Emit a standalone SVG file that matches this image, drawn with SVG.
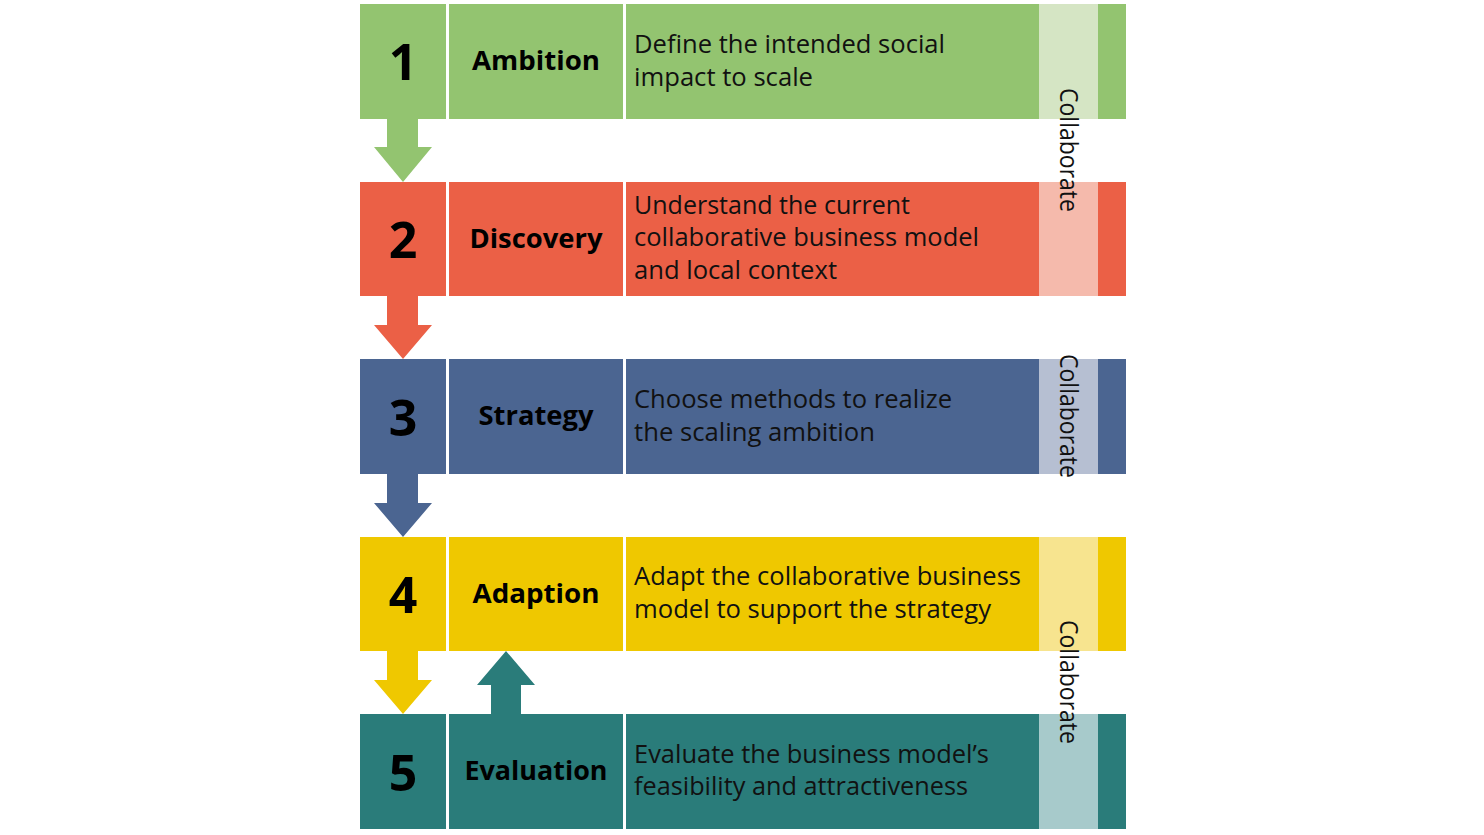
<svg xmlns="http://www.w3.org/2000/svg" width="1484" height="835" viewBox="0 0 1484 835">
<style>
.num{font-family:"Open Sans","Noto Sans",sans-serif;font-weight:700;font-size:50px;fill:#000;text-anchor:middle}
.lbl{font-family:"Open Sans","Noto Sans",sans-serif;font-weight:700;font-size:27px;fill:#000;text-anchor:middle}
.desc{font-family:"Open Sans","Noto Sans",sans-serif;font-size:25px;fill:#111}
.col{font-family:"Open Sans","Noto Sans",sans-serif;font-size:25px;fill:#111;text-anchor:middle}
.g{fill:#93C470}.gl{fill:#D5E5C4}
.r{fill:#EB6046}.rl{fill:#F5BAAC}
.b{fill:#4B6591}.bl{fill:#B6BFD2}
.y{fill:#EFC800}.yl{fill:#F7E48F}
.t{fill:#2A7C7A}.tl{fill:#A7CACB}
</style>
<rect width="1484" height="835" fill="#fff"/>
<g id="step1">
<rect class="g" x="360" y="4" width="86" height="115"/>
<rect class="g" x="449" y="4" width="174" height="115"/>
<rect class="g" x="626" y="4" width="500" height="115"/>
<rect class="gl" x="1039" y="4" width="59" height="115"/>
<text class="num" x="403" y="80">1</text>
<text class="lbl" x="536" y="70" textLength="128" lengthAdjust="spacingAndGlyphs">Ambition</text>
<text class="desc" x="634" y="53" textLength="311" lengthAdjust="spacingAndGlyphs">Define the intended social</text>
<text class="desc" x="634" y="86" textLength="179" lengthAdjust="spacingAndGlyphs">impact to scale</text>
</g>
<g id="step2">
<rect class="r" x="360" y="182" width="86" height="114"/>
<rect class="r" x="449" y="182" width="174" height="114"/>
<rect class="r" x="626" y="182" width="500" height="114"/>
<rect class="rl" x="1039" y="182" width="59" height="114"/>
<text class="num" x="403" y="258">2</text>
<text class="lbl" x="536" y="248" textLength="133" lengthAdjust="spacingAndGlyphs">Discovery</text>
<text class="desc" x="634" y="214" textLength="276" lengthAdjust="spacingAndGlyphs">Understand the current</text>
<text class="desc" x="634" y="246" textLength="345" lengthAdjust="spacingAndGlyphs">collaborative business model</text>
<text class="desc" x="634" y="279" textLength="203" lengthAdjust="spacingAndGlyphs">and local context</text>
</g>
<g id="step3">
<rect class="b" x="360" y="359" width="86" height="115"/>
<rect class="b" x="449" y="359" width="174" height="115"/>
<rect class="b" x="626" y="359" width="500" height="115"/>
<rect class="bl" x="1039" y="359" width="59" height="115"/>
<text class="num" x="403" y="436">3</text>
<text class="lbl" x="536" y="425" textLength="115" lengthAdjust="spacingAndGlyphs">Strategy</text>
<text class="desc" x="634" y="408" textLength="318" lengthAdjust="spacingAndGlyphs">Choose methods to realize</text>
<text class="desc" x="634" y="441" textLength="241" lengthAdjust="spacingAndGlyphs">the scaling ambition</text>
</g>
<g id="step4">
<rect class="y" x="360" y="537" width="86" height="114"/>
<rect class="y" x="449" y="537" width="174" height="114"/>
<rect class="y" x="626" y="537" width="500" height="114"/>
<rect class="yl" x="1039" y="537" width="59" height="114"/>
<text class="num" x="403" y="613">4</text>
<text class="lbl" x="536" y="603" textLength="127" lengthAdjust="spacingAndGlyphs">Adaption</text>
<text class="desc" x="634" y="585" textLength="387" lengthAdjust="spacingAndGlyphs">Adapt the collaborative business</text>
<text class="desc" x="634" y="618" textLength="357" lengthAdjust="spacingAndGlyphs">model to support the strategy</text>
</g>
<g id="step5">
<rect class="t" x="360" y="714" width="86" height="115"/>
<rect class="t" x="449" y="714" width="174" height="115"/>
<rect class="t" x="626" y="714" width="500" height="115"/>
<rect class="tl" x="1039" y="714" width="59" height="115"/>
<text class="num" x="403" y="791">5</text>
<text class="lbl" x="536" y="780" textLength="143" lengthAdjust="spacingAndGlyphs">Evaluation</text>
<text class="desc" x="634" y="763" textLength="355" lengthAdjust="spacingAndGlyphs">Evaluate the business model’s</text>
<text class="desc" x="634" y="795" textLength="334" lengthAdjust="spacingAndGlyphs">feasibility and attractiveness</text>
</g>
<g id="collaborate">
<text class="col" transform="translate(1060,150) rotate(90)" textLength="124" lengthAdjust="spacingAndGlyphs">Collaborate</text>
<text class="col" transform="translate(1060,416) rotate(90)" textLength="124" lengthAdjust="spacingAndGlyphs">Collaborate</text>
<text class="col" transform="translate(1060,682) rotate(90)" textLength="124" lengthAdjust="spacingAndGlyphs">Collaborate</text>
</g>
<g id="connectors">
<polygon class="g" points="387,119 418,119 418,147 432,147 403,182 374,147 387,147"/>
<polygon class="r" points="387,296 418,296 418,325 432,325 403,359 374,325 387,325"/>
<polygon class="b" points="387,474 418,474 418,503 432,503 403,537 374,503 387,503"/>
<polygon class="y" points="387,651 418,651 418,680 432,680 403,714 374,680 387,680"/>
<polygon class="t" points="491,714 521,714 521,685 535,685 506,651 477,685 491,685"/>
</g>
</svg>
